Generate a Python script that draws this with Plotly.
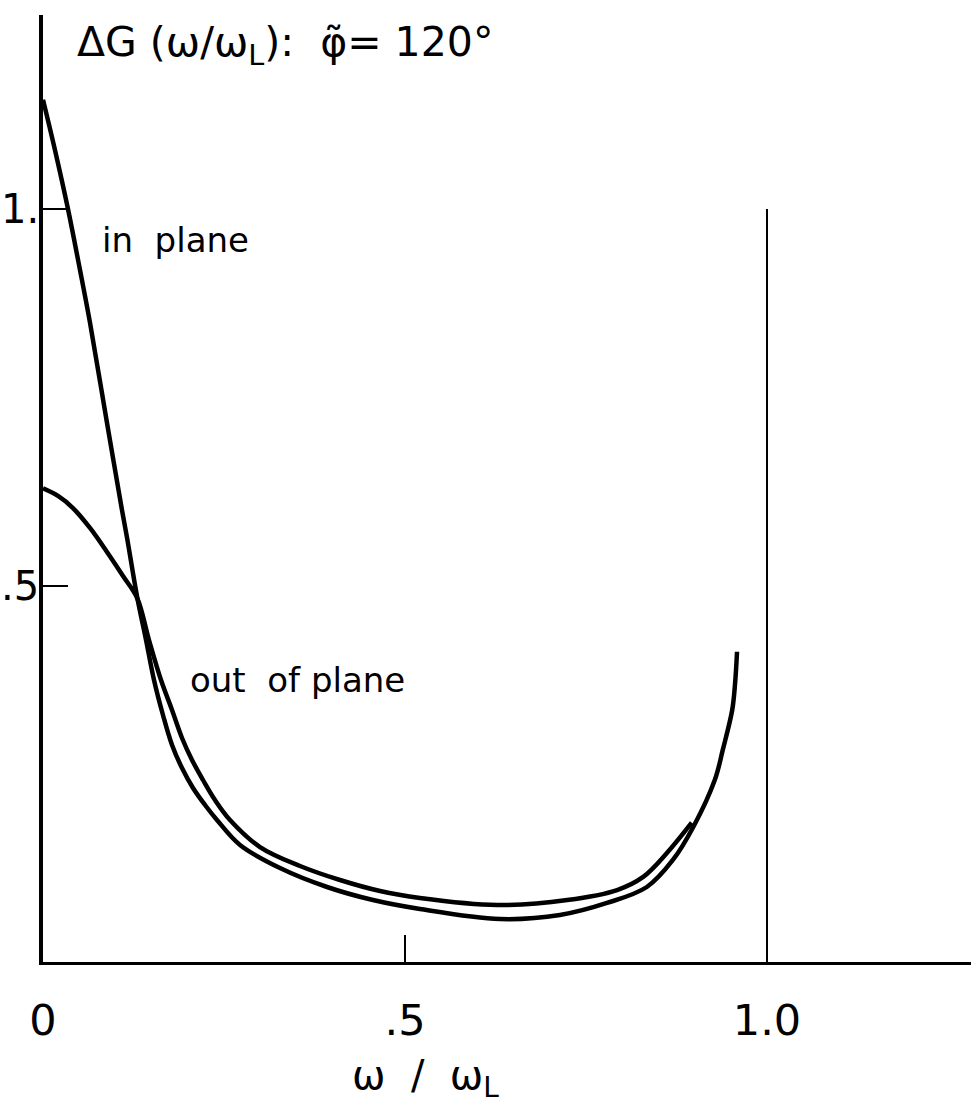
import plotly.graph_objects as go

# Frequency ratio w/wL and relaxation response dG for phi = 120 deg
in_plane_x = [0.0, 0.0166, 0.0345, 0.0511, 0.0649, 0.0884, 0.1091, 0.116, 0.130,
              0.1423, 0.1533, 0.1657, 0.1782, 0.1920, 0.2072, 0.2238, 0.2403,
              0.2721, 0.3273, 0.3923, 0.4558, 0.5207, 0.6312, 0.714, 0.779, 0.834,
              0.870, 0.898, 0.928, 0.939, 0.952, 0.956, 0.9586]
in_plane_y = [1.145, 1.078, 1.000, 0.919, 0.849, 0.716, 0.600, 0.564, 0.485,
              0.4276, 0.3745, 0.3280, 0.2882, 0.2576, 0.2311, 0.2085, 0.1886,
              0.1554, 0.1248, 0.0996, 0.0823, 0.0704, 0.0571, 0.0624, 0.0784, 0.0996,
              0.1355, 0.179, 0.242, 0.282, 0.335, 0.371, 0.412]

out_plane_x = [0.0, 0.0207, 0.0414, 0.0649, 0.0884, 0.1105, 0.130, 0.1464, 0.1630,
               0.1782, 0.1920, 0.2058, 0.2210, 0.2376, 0.2583, 0.2997, 0.355, 0.4102,
               0.4655, 0.5207, 0.627, 0.724, 0.793, 0.829, 0.862, 0.896]
out_plane_y = [0.629, 0.6189, 0.6029, 0.5764, 0.5445, 0.5126, 0.4834, 0.4276, 0.3745,
               0.3347, 0.2975, 0.2683, 0.2417, 0.2151, 0.1886, 0.1527, 0.1275, 0.1089,
               0.0943, 0.0850, 0.0757, 0.0823, 0.0956, 0.113, 0.145, 0.185]

x_tick_vals = [0.0, 0.5, 1.0]
x_tick_text = ["0", ".5", "1.0"]
y_tick_vals = [0.5, 1.0]
y_tick_text = [".5", "1."]

FONT = "DejaVu Sans"
INK = "black"

fig = go.Figure()
for xs, ys in ((in_plane_x, in_plane_y), (out_plane_x, out_plane_y)):
    fig.add_trace(go.Scatter(x=xs, y=ys, mode="lines",
                             line=dict(color=INK, width=4.5, shape="spline", smoothing=1.0),
                             showlegend=False, hoverinfo="skip", cliponaxis=False))

# limit marker at w/wL = 1
fig.add_shape(type="line", x0=1.0, x1=1.0, y0=0, y1=1.0, xref="x", yref="y",
              line=dict(color=INK, width=2))

W, H = 971, 1108
ml, mb, mt, mr = 43, 146, 15, 0
xspan = 724.0   # px per unit
yspan = 753.0
fig.update_layout(
    width=W, height=H,
    margin=dict(l=ml, r=mr, t=mt, b=mb, autoexpand=False),
    paper_bgcolor="white", plot_bgcolor="white",
    font=dict(family=FONT, color=INK),
    xaxis=dict(range=[0, (W - ml - mr) / xspan], showgrid=False, zeroline=False,
               automargin=False,
               showline=True, linecolor=INK, linewidth=3,
               ticks="inside", ticklen=27, tickwidth=2, tickcolor=INK,
               tickvals=x_tick_vals, ticktext=x_tick_text,
               tickfont=dict(size=43, family=FONT), ticklabelstandoff=18),
    yaxis=dict(range=[0, (H - mt - mb) / yspan], showgrid=False, zeroline=False,
               automargin=False,
               showline=True, linecolor=INK, linewidth=4,
               ticks="inside", ticklen=25, tickwidth=2, tickcolor=INK,
               tickvals=y_tick_vals, showticklabels=False),
)

# vertical-axis tick labels, set just left of the axis line
for v, t in zip(y_tick_vals, y_tick_text):
    fig.add_annotation(x=0, y=v, xref="x", yref="y", xanchor="right", yanchor="middle",
                       xshift=-3, text=t, showarrow=False, borderpad=0,
                       font=dict(size=40, family=FONT, color=INK))

fig.add_annotation(x=0.044, y=1.218, xref="x", yref="y", xanchor="left", yanchor="middle",
                   text="ΔG (ω/ω<sub>L</sub>):  φ\u0303= 120°", showarrow=False,
                   font=dict(size=41, family=FONT, color=INK))
fig.add_annotation(x=0.0787, y=0.959, xref="x", yref="y", xanchor="left", yanchor="middle",
                   text="in  plane", showarrow=False,
                   font=dict(size=34, family=FONT, color=INK))
fig.add_annotation(x=0.2003, y=0.3745, xref="x", yref="y", xanchor="left", yanchor="middle",
                   text="out  of plane", showarrow=False,
                   font=dict(size=34, family=FONT, color=INK))
# horizontal axis title, placed below the tick labels
fig.add_annotation(x=(425 - ml) / (W - ml - mr), y=-(1078 - (H - mb)) / (H - mt - mb),
                   xref="paper", yref="paper", xanchor="center", yanchor="middle",
                   text="ω  /  ω<sub>L</sub>", showarrow=False,
                   font=dict(size=40, family=FONT, color=INK))

fig.write_html("out.html")
